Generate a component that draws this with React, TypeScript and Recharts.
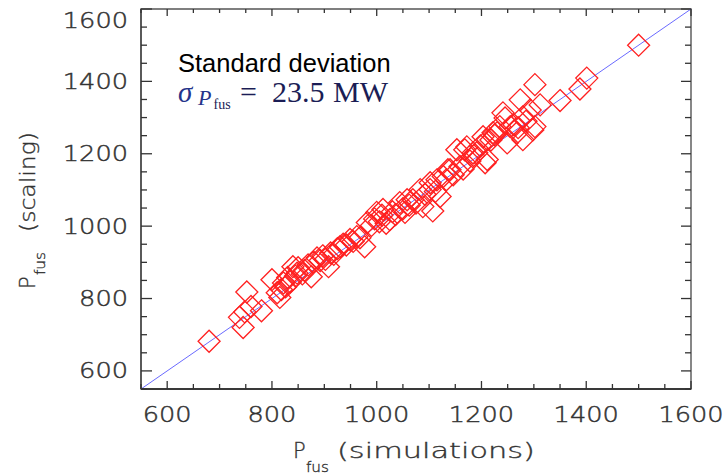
import { ScatterChart, Scatter, XAxis, YAxis, ReferenceLine, ReferenceArea } from "recharts";

// P_fus from simulations (x) vs P_fus from scaling law (y), MW
const simulations = [
  680, 738, 745, 748, 752, 760, 780, 800, 810, 815, 818, 822, 826, 830, 835, 840, 845, 848, 850, 858,
  862, 869, 875, 880, 886, 892, 897, 902, 908, 912, 918, 925, 930, 936, 942, 949, 955, 962, 968, 977,
  982, 990, 996, 1000, 1005, 1010, 1012, 1018, 1025, 1030, 1036, 1044, 1050, 1054, 1058, 1062, 1069, 1075, 1083, 1088,
  1092, 1102, 1102, 1107, 1112, 1115, 1121, 1127, 1133, 1136, 1140, 1146, 1153, 1159, 1165, 1168, 1172, 1178, 1184, 1185,
  1191, 1198, 1203, 1207, 1211, 1212, 1218, 1222, 1225, 1230, 1235, 1241, 1245, 1249, 1255, 1262, 1268, 1270, 1274, 1279,
  1279, 1285, 1293, 1298, 1302, 1302, 1312, 1350, 1388, 1401, 1500,
];
const scaling = [
  682, 748, 720, 763, 818, 778, 766, 852, 816, 803, 825, 843, 832, 858, 846, 888, 862, 870, 885, 868,
  878, 893, 860, 900, 912, 905, 918, 908, 888, 926, 922, 938, 943, 950, 948, 963, 958, 971, 968, 943,
  1010, 1002, 1020, 1038, 1012, 1030, 1046, 1008, 1018, 1040, 1032, 1065, 1048, 1038, 1073, 1058, 1073, 1064, 1101, 1054,
  1088, 1101, 1120, 1042, 1096, 1128, 1082, 1137, 1128, 1156, 1156, 1142, 1211, 1165, 1158, 1211, 1219, 1180, 1202, 1195,
  1203, 1222, 1247, 1175, 1184, 1239, 1238, 1258, 1252, 1258, 1275, 1313, 1299, 1230, 1275, 1280, 1258, 1272, 1349, 1239,
  1302, 1290, 1321, 1266, 1391, 1275, 1335, 1347, 1379, 1409, 1500,
];

const axisTicks = [
  550, 600, 650, 700, 750, 800, 850, 900, 950, 1000, 1050, 1100,
  1150, 1200, 1250, 1300, 1350, 1400, 1450, 1500, 1550, 1600,
];
const tickLabels = [600, 800, 1000, 1200, 1400, 1600];

const points = simulations.map((x, i) => ({ x, y: scaling[i] }));

const W = 726;
const H = 475;
const M = { top: 9, right: 35, bottom: 56, left: 81 };
const PLOT_RIGHT = W - M.right;
const AXIS = "#333";
const LABEL = "#333";
const FONT = "'DejaVu Sans', sans-serif";
const DIGIT_W = 16.3;

// thin font, thickened a little with a stroke
const labelStyle = {
  fontFamily: FONT,
  fontSize: 21,
  fontWeight: 200,
  fill: LABEL,
  stroke: LABEL,
  strokeWidth: 0.45,
};

function XTick(props: any) {
  const { x, y, payload } = props;
  const v = payload.value as number;
  const major = tickLabels.includes(v);
  const s = String(v);
  return (
    <g>
      <line x1={x} x2={x} y1={y} y2={y - (major ? 8 : 5)} stroke={AXIS} strokeWidth={1.3} />
      <line x1={x} x2={x} y1={M.top} y2={M.top + (major ? 7 : 4)} stroke={AXIS} strokeWidth={1.3} />
      {major && (
        <text
          x={x}
          y={y + 33}
          textAnchor="middle"
          {...labelStyle}
          textLength={s.length * DIGIT_W}
          lengthAdjust="spacingAndGlyphs"
        >
          {s}
        </text>
      )}
    </g>
  );
}

function YTick(props: any) {
  const { x, y, payload } = props;
  const v = payload.value as number;
  const major = tickLabels.includes(v);
  const s = String(v);
  return (
    <g>
      <line x1={x} x2={x + (major ? 11 : 6)} y1={y} y2={y} stroke={AXIS} strokeWidth={1.3} />
      <line x1={PLOT_RIGHT} x2={PLOT_RIGHT - (major ? 10 : 6)} y1={y} y2={y} stroke={AXIS} strokeWidth={1.3} />
      {major && (
        <text
          x={x - 13}
          y={v === 1600 ? y + 19 : y + 7.5}
          textAnchor="end"
          {...labelStyle}
          textLength={s.length * DIGIT_W}
          lengthAdjust="spacingAndGlyphs"
        >
          {s}
        </text>
      )}
    </g>
  );
}

function Diamond(props: any) {
  const { cx, cy } = props;
  const r = 11;
  return (
    <path
      d={`M${cx},${cy - r}L${cx + r},${cy}L${cx},${cy + r}L${cx - r},${cy}Z`}
      fill="none"
      stroke="#ff2020"
      strokeWidth={1.3}
    />
  );
}

function Overlay() {
  const math = "'Liberation Serif', 'Times New Roman', serif";
  return (
    <svg
      width={W}
      height={H}
      style={{ position: "absolute", left: 0, top: 0, pointerEvents: "none" }}
    >
      <text x={178} y={72} fontFamily="'Liberation Sans', Arial, sans-serif" fontSize={25.5} fill="#000">
        Standard deviation
      </text>
      <g fontFamily={math} fill="#1b1d55">
        <text x={178} y={102} fontSize={29} fontStyle="italic" fill="#25348a">σ</text>
        <text x={198} y={105} fontSize={22} fontStyle="italic" fill="#25348a">P</text>
        <text x={213.5} y={108.5} fontSize={14}>fus</text>
        <text x={240} y={102} fontSize={30}>=</text>
        <text x={272} y={102} fontSize={30}>23.5</text>
        <text x={333} y={102} fontSize={30}>MW</text>
      </g>

      <g {...labelStyle} strokeWidth={0.35}>
        <text x={293} y={458}>P</text>
        <text x={306} y={472} fontSize={14} textLength={23} lengthAdjust="spacingAndGlyphs">fus</text>
        <text x={337} y={458} textLength={198} lengthAdjust="spacingAndGlyphs">
          (simulations)
        </text>
        <g transform="translate(35, 289) rotate(-90)">
          <text x={0} y={0}>P</text>
          <text x={14} y={10} fontSize={14} textLength={23} lengthAdjust="spacingAndGlyphs">fus</text>
          <text x={57} y={0} textLength={100} lengthAdjust="spacingAndGlyphs">
            (scaling)
          </text>
        </g>
      </g>
    </svg>
  );
}

export default function App() {
  return (
    <div style={{ position: "absolute", left: 0, top: 0, width: W, height: H, background: "#fff" }}>
      <ScatterChart width={W} height={H} margin={M}>
        <XAxis
          dataKey="x"
          type="number"
          domain={[550, 1600]}
          allowDataOverflow
          ticks={axisTicks}
          interval={0}
          height={30}
          tickSize={0}
          tickMargin={0}
          tickLine={false}
          axisLine={{ stroke: "#222", strokeWidth: 1.6 }}
          tick={<XTick />}
        />
        <YAxis
          dataKey="y"
          type="number"
          domain={[550, 1600]}
          allowDataOverflow
          ticks={axisTicks}
          interval={0}
          width={60}
          tickSize={0}
          tickMargin={0}
          tickLine={false}
          axisLine={{ stroke: "#555", strokeWidth: 1.8 }}
          tick={<YTick />}
        />
        <ReferenceArea x1={550} x2={1600} y1={550} y2={1600} fill="none" stroke="#555" strokeWidth={1.4} />
        <ReferenceLine
          segment={[
            { x: 550, y: 550 },
            { x: 1600, y: 1600 },
          ]}
          stroke="#6a6aff"
          strokeWidth={1}
        />
        <Scatter data={points} shape={<Diamond />} isAnimationActive={false} />
      </ScatterChart>
      <Overlay />
    </div>
  );
}
